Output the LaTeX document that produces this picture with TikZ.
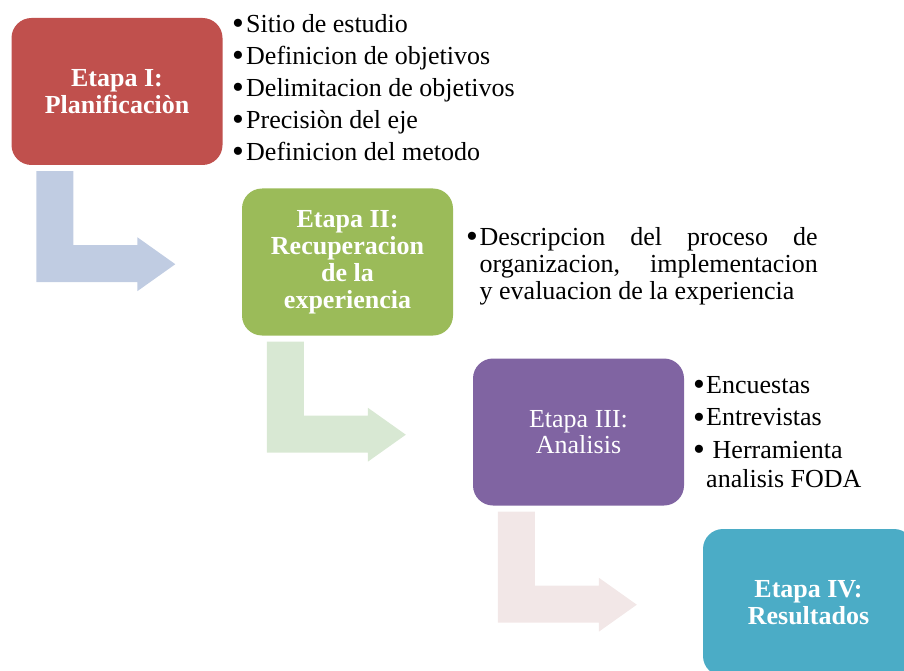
\documentclass[tikz,border=0pt]{standalone}
\usepackage{fontspec}
\usepackage{graphicx}
\setmainfont{Liberation Serif}
\definecolor{redA}{RGB}{192,80,77}
\definecolor{greenA}{RGB}{155,187,89}
\definecolor{purpleA}{RGB}{128,100,162}
\definecolor{aquaA}{RGB}{75,172,198}
\definecolor{arrA}{RGB}{192,204,226}
\definecolor{arrB}{RGB}{216,232,211}
\definecolor{arrC}{RGB}{242,231,231}
\newcommand\mybul[1][14pt]{\makebox[#1][l]{\raisebox{-2.4pt}{\scalebox{1.3}{•}}}}
\begin{document}
\begin{tikzpicture}[x=1pt,y=-1pt,
  stage/.style={rounded corners=20pt, minimum width=211pt, minimum height=147pt,
    inner sep=0pt, align=center, text=white,
    font=\fontsize{26}{27}\selectfont\bfseries},
  bullets/.style={anchor=north west, inner sep=0pt, align=left, text=black},
  bend/.pic={\fill[pic actions] (25,6) -- (62,6) -- (62,80) -- (126,80) -- (126,72)
    -- (164,99) -- (126,126) -- (126,117) -- (25,117) -- cycle;}
]
\useasboundingbox (0,0) rectangle (904,671);

% stage boxes
\node[stage, fill=redA] (b1) at (117,91.5) {Etapa I:\\Planificaciòn};
\node[stage, fill=greenA] (b2) at (347.5,262) {Etapa II:\\Recuperacion\\de la\\experiencia};
\node[stage, fill=purpleA, font=\fontsize{26}{26}\selectfont] (b3) at (578.5,432) {Etapa III:\\Analisis};
\begin{scope}
  \clip (0,0) rectangle (904,671);
  \node[stage, fill=aquaA] (b4) at (808.5,602.5) {Etapa IV:\\Resultados};
\end{scope}

% bent arrows
\pic[fill=arrA] at (b1.south west) {bend};
\pic[fill=arrB] at (b2.south west) {bend};
\pic[fill=arrC] at (b3.south west) {bend};

% bullet lists
\node[bullets, font=\fontsize{26}{32}\selectfont] (l1) at (232,12)
  {\rule{0pt}{20pt}\mybul Sitio de estudio\\
   \mybul Definicion de objetivos\\
   \mybul Delimitacion de objetivos\\
   \mybul Precisiòn del eje\\
   \mybul Definicion del metodo};

\node[bullets, font=\fontsize{26}{27}\selectfont] (l2) at (466,225)
  {\rule{0pt}{20pt}\mybul[13.5pt]\makebox[338pt][s]{Descripcion del proceso de}\\
   \hspace*{13.5pt}\makebox[338pt][s]{organizacion, implementacion}\\
   \hspace*{13.5pt}y evaluacion de la experiencia};

\node[bullets, font=\fontsize{26}{29}\selectfont] (l3) at (693,373)
  {\rule{0pt}{20pt}\mybul[13pt]Encuestas\\[3.5pt]
   \mybul[13pt]Entrevistas\\[3.5pt]
   \mybul[13pt]\ Herramienta\\
   \hspace*{13pt}analisis FODA};
\end{tikzpicture}
\end{document}
